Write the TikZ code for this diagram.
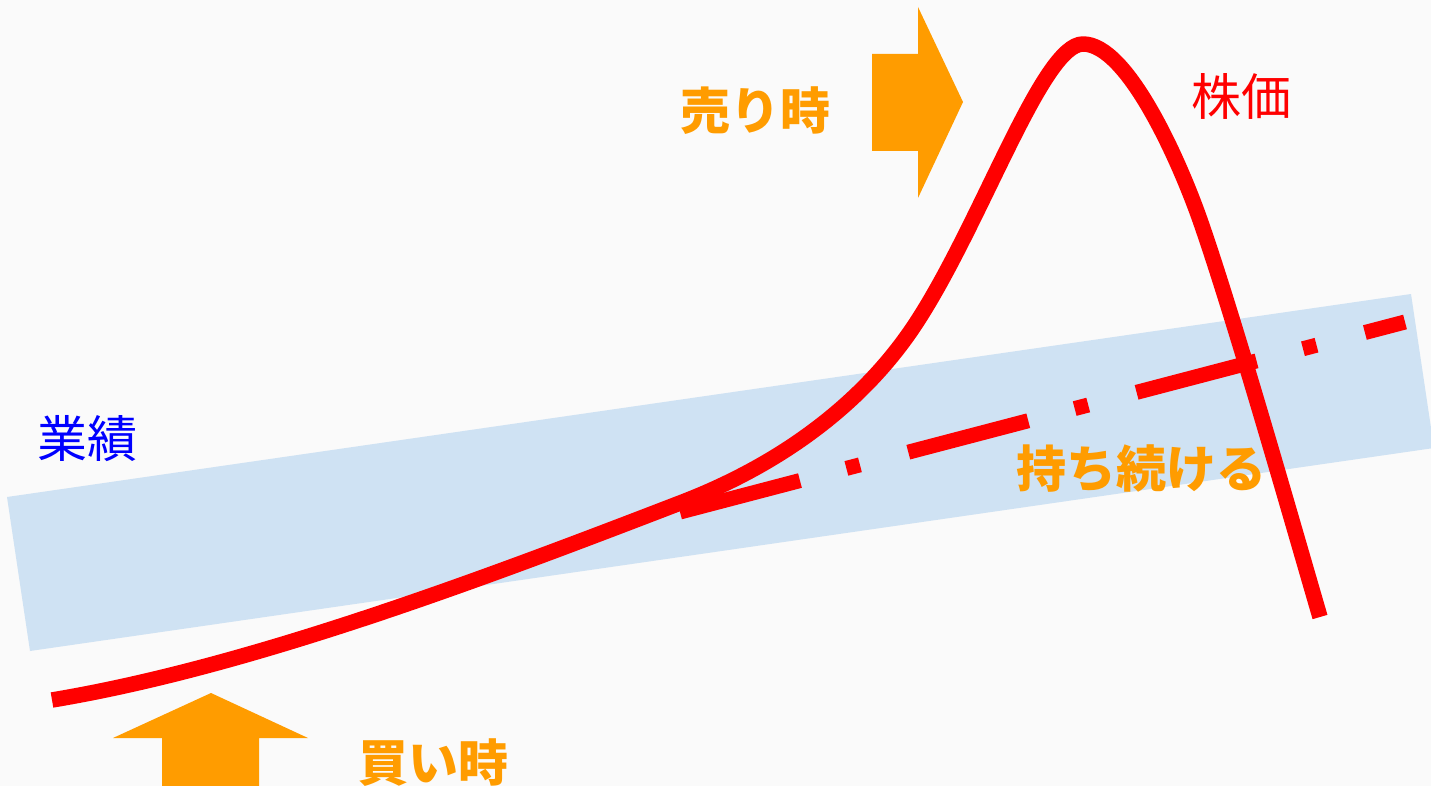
\documentclass[tikz,border=0pt]{standalone}
\usepackage{fontspec}
\newfontfamily\cjk{Noto Sans CJK JP}
\definecolor{bg}{HTML}{FAFAFA}
\definecolor{bandblue}{HTML}{CFE2F3}
\definecolor{arroworange}{HTML}{FF9C00}
\definecolor{pricered}{HTML}{FF0000}
\definecolor{perfblue}{HTML}{0000FF}
\begin{document}
\begin{tikzpicture}[x=1pt,y=-1pt,
  lbl/.style={inner sep=0pt, font=\cjk\fontsize{50}{50}\selectfont},
  boldlbl/.style={lbl, font=\cjk\bfseries\fontsize{50}{50}\selectfont, text=arroworange},
  arrowshape/.style={fill=arroworange, draw=none},
  price/.style={draw=pricered, line width=15.5pt, line join=round},
  trend/.style={draw=pricered, line width=15pt, dash pattern=on 124pt off 48pt on 14pt off 50pt}]
\fill[bg] (0,0) rectangle (1431,786);
\useasboundingbox (0,0) rectangle (1431,786);
% performance band
\fill[bandblue] (7,497) -- (1411,294) -- (1434,448) -- (30,651) -- cycle;
% trend line (hold)
\coordinate (ts) at (680,512);
\coordinate (te) at (1405,322);
\draw[trend] (ts) -- (te);
% stock price curve
\coordinate (p0) at (52,700);
\coordinate (p1) at (680,503);
\coordinate (p2) at (920,317);
\coordinate (peak) at (1083,44);
\coordinate (p3) at (1200,220);
\coordinate (p4) at (1320,617);
\draw[price] (p0) .. controls (250,667) and (480,580) .. (p1)
  .. controls (790,461) and (871,395) .. (p2)
  .. controls (984,216) and (1043,44) .. (peak)
  .. controls (1128,44) and (1180,163) .. (p3)
  .. controls (1233,314) and (1292,521) .. (p4);
% sell arrow
\fill[arrowshape] (872,54) -- (918,54) -- (918,7) -- (963,102) -- (918,198) -- (918,151) -- (872,151) -- cycle;
% buy arrow
\fill[arrowshape] (162,790) -- (162,738) -- (113,738) -- (211,693) -- (308,738) -- (259,738) -- (259,790) -- cycle;
% labels
\node[boldlbl] (sell) at (755,111) {売り時};
\node[boldlbl] (buy) at (433,763) {買い時};
\node[boldlbl] (hold) at (1141,468) {持ち続ける};
\node[lbl, text=perfblue] (perf) at (87,439) {業績};
\node[lbl, text=pricered] (stock) at (1241,96) {株価};
\end{tikzpicture}
\end{document}
